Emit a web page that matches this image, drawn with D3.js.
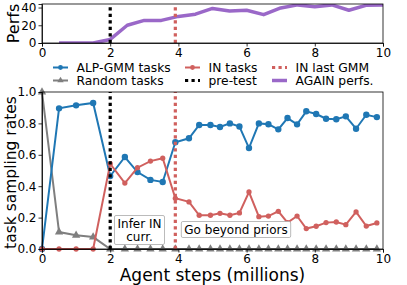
<!DOCTYPE html>
<html lang="en">
<head>
<meta charset="utf-8">
<title>AGAIN sampling rates</title>
<script src="https://d3js.org/d3.v7.min.js"></script>
<style>
  body { margin: 0; background: #fff; }
  text { font-family: "DejaVu Sans", sans-serif; }
</style>
</head>
<body>
<div id="chart"></div>
<script>
// ---- data ----
let steps = [0, 0.5, 1.0, 1.5, 2.0, 2.43, 2.8, 3.18, 3.54, 3.91, 4.31, 4.61, 4.94, 5.22, 5.51,
             5.79, 6.07, 6.36, 6.64, 6.93, 7.2, 7.48, 7.75, 8.04, 8.33, 8.63, 8.91, 9.21, 9.51, 9.82];
let alpGmmRates = [0, 0.896, 0.915, 0.93, 0.465, 0.586, 0.49, 0.44, 0.427, 0.68, 0.705, 0.79, 0.79, 0.777, 0.80,
                   0.78, 0.643, 0.80, 0.795, 0.762, 0.834, 0.794, 0.877, 0.86, 0.83, 0.826, 0.845, 0.766, 0.855, 0.84];
let inRates = [0, 0, 0, 0, 0.543, 0.42, 0.518, 0.56, 0.578, 0.323, 0.30, 0.215, 0.215, 0.227, 0.215,
               0.23, 0.363, 0.206, 0.21, 0.24, 0.168, 0.21, 0.13, 0.145, 0.168, 0.172, 0.155, 0.236, 0.146, 0.166];
let randomRates = [1.0, 0.108, 0.087, 0.076, 0, 0, 0, 0, 0, 0, 0, 0, 0, 0, 0,
                   0, 0, 0, 0, 0, 0, 0, 0, 0, 0, 0, 0, 0, 0, 0];
let perfSteps = [0.5, 1, 1.5, 2, 2.5, 3, 3.5, 4, 4.5, 5, 5.5, 6, 6.5, 7, 7.5, 8, 8.5, 9, 9.5, 10];
let perfs = [0, 0, 0, 4, 20, 25.5, 25.5, 30, 32.5, 39, 36, 37, 32, 39.5, 43, 41, 43, 37, 42.5, 43];
let preTestStep = 2.0;
let inLastGmmStep = 3.91;
let xTicks = [0, 2, 4, 6, 8, 10];
let perfTicks = [0, 20, 40];
let rateTicks = [0, 0.2, 0.4, 0.6, 0.8, 1.0];

let width = 407, height = 285;
let left = 42, right = 383;
let top1 = 4, bottom1 = 43;
let top2 = 92, bottom2 = 249;

let blue = "#1f77b4", red = "#d0605e", grey = "#7f7f7f", purple = "#9a68c8";

let svg = d3.select("#chart").append("svg")
    .attr("width", width).attr("height", height);

let x = d3.scaleLinear().domain([0, 10]).range([left, right]);
let yPerf = d3.scaleLinear().domain([0, 44]).range([bottom1, top1]);
let yRate = d3.scaleLinear().domain([0, 1]).range([bottom2, top2]);

svg.append("clipPath").attr("id", "clipTop")
    .append("rect").attr("x", left).attr("y", top1).attr("width", right - left).attr("height", bottom1 - top1);

function styleAxis(g) {
    g.selectAll("path").attr("stroke", "#000").attr("stroke-width", 0.8);
    g.selectAll("line").attr("stroke", "#000").attr("stroke-width", 0.8);
    g.selectAll("text").attr("font-size", 12).attr("fill", "#000");
}

// ---- top panel: performance ----
let gTop = svg.append("g");
gTop.append("path")
    .datum(perfSteps.map((s, i) => [s, perfs[i]]))
    .attr("clip-path", "url(#clipTop)")
    .attr("fill", "none").attr("stroke", purple).attr("stroke-width", 3.5)
    .attr("stroke-linejoin", "round")
    .attr("d", d3.line().x(d => x(d[0])).y(d => yPerf(d[1])));

function vline(g, step, y0, y1, color) {
    g.append("line")
        .attr("x1", x(step)).attr("x2", x(step))
        .attr("y1", y0).attr("y2", y1)
        .attr("stroke", color).attr("stroke-width", 3.2)
        .attr("stroke-dasharray", "3.2,3.3");
}
vline(gTop, preTestStep, bottom1, top1, "#000");
vline(gTop, inLastGmmStep, bottom1, top1, red);

gTop.append("g").attr("transform", "translate(0," + bottom1 + ")")
    .call(d3.axisBottom(x).tickValues(xTicks).tickSize(3.5).tickPadding(2))
    .call(styleAxis);
gTop.append("g").attr("transform", "translate(" + left + ",0)")
    .call(d3.axisLeft(yPerf).tickValues(perfTicks).tickSize(3.5).tickPadding(2))
    .call(styleAxis);
gTop.append("rect").attr("x", left).attr("y", top1).attr("width", right - left).attr("height", bottom1 - top1)
    .attr("fill", "none").attr("stroke", "#000").attr("stroke-width", 0.8);
gTop.append("text").attr("transform", "translate(18.5," + ((top1 + bottom1) / 2) + ") rotate(-90)")
    .attr("text-anchor", "middle").attr("font-size", 16).text("Perfs");

// ---- bottom panel: task sampling rates ----
let gBot = svg.append("g");
let rateLine = d3.line().x(d => x(d[0])).y(d => yRate(d[1]));

function series(values, color, marker, size) {
    let pts = steps.map((s, i) => [s, values[i]]);
    gBot.append("path").datum(pts)
        .attr("fill", "none").attr("stroke", color).attr("stroke-width", 2)
        .attr("d", rateLine);
    gBot.append("g").selectAll("path").data(pts).join("path")
        .attr("transform", d => "translate(" + x(d[0]) + "," + yRate(d[1]) + ")")
        .attr("d", d3.symbol().type(marker).size(size))
        .attr("fill", color);
}
series(randomRates, grey, d3.symbolTriangle, 30);
series(alpGmmRates, blue, d3.symbolCircle, 32);
series(inRates, red, d3.symbolCircle, 22);

vline(gBot, preTestStep, bottom2, top2, "#000");
vline(gBot, inLastGmmStep, bottom2, top2, red);

gBot.append("g").attr("transform", "translate(0," + bottom2 + ")")
    .call(d3.axisBottom(x).tickValues(xTicks).tickSize(3.5).tickPadding(1.5))
    .call(styleAxis);
gBot.append("g").attr("transform", "translate(" + left + ",0)")
    .call(d3.axisLeft(yRate).tickValues(rateTicks).tickFormat(d3.format(".1f")).tickSize(3.5).tickPadding(2))
    .call(styleAxis);
gBot.append("rect").attr("x", left).attr("y", top2).attr("width", right - left).attr("height", bottom2 - top2)
    .attr("fill", "none").attr("stroke", "#000").attr("stroke-width", 0.8);

gBot.append("text").attr("transform", "translate(15.5," + ((top2 + bottom2) / 2 + 2) + ") rotate(-90)")
    .attr("text-anchor", "middle").attr("font-size", 15.5).text("task sampling rates");
gBot.append("text").attr("x", (left + right) / 2).attr("y", 281)
    .attr("text-anchor", "middle").attr("font-size", 17).text("Agent steps (millions)");

// annotation boxes
function noteBox(lines, cx, y0, lineH) {
    let g = gBot.append("g");
    let rect = g.append("rect");
    let txt = g.append("text").attr("text-anchor", "middle").attr("font-size", 12);
    lines.forEach((l, i) => txt.append("tspan").attr("x", cx).attr("y", y0 + i * lineH).text(l));
    let bb = txt.node().getBBox();
    rect.attr("x", bb.x - 3).attr("y", bb.y - 1).attr("width", bb.width + 6).attr("height", bb.height + 2)
        .attr("rx", 1.5).attr("fill", "#fff").attr("stroke", "#aaa").attr("stroke-width", 0.8);
}
noteBox(["Infer IN", "curr."], 139.5, 227.5, 13);
noteBox(["Go beyond priors"], 236, 233.5, 13);

// ---- legend ----
let legendItems = [
    {label: "ALP-GMM tasks", color: blue, kind: "marker", marker: d3.symbolCircle, col: 0, row: 0},
    {label: "IN tasks", color: red, kind: "marker", marker: d3.symbolCircle, col: 1, row: 0},
    {label: "IN last GMM", color: red, kind: "dotted", col: 2, row: 0},
    {label: "Random tasks", color: grey, kind: "marker", marker: d3.symbolTriangle, col: 0, row: 1},
    {label: "pre-test", color: "#000", kind: "dotted", col: 1, row: 1},
    {label: "AGAIN perfs.", color: purple, kind: "thick", col: 2, row: 1}
];
let colX = [53, 185, 272];
let rowY = [67.5, 80.5];
let leg = svg.append("g");
legendItems.forEach(function(d) {
    let x0 = colX[d.col], y0 = rowY[d.row];
    if (d.kind === "marker") {
        leg.append("line").attr("x1", x0).attr("x2", x0 + 15).attr("y1", y0).attr("y2", y0)
            .attr("stroke", d.color).attr("stroke-width", 2);
        leg.append("path").attr("transform", "translate(" + (x0 + 7.5) + "," + y0 + ")")
            .attr("d", d3.symbol().type(d.marker).size(18)).attr("fill", d.color);
    } else if (d.kind === "dotted") {
        leg.append("line").attr("x1", x0).attr("x2", x0 + 15).attr("y1", y0).attr("y2", y0)
            .attr("stroke", d.color).attr("stroke-width", 3.2).attr("stroke-dasharray", "3.2,3.3");
    } else {
        leg.append("line").attr("x1", x0).attr("x2", x0 + 15).attr("y1", y0).attr("y2", y0)
            .attr("stroke", d.color).attr("stroke-width", 3.5);
    }
    leg.append("text").attr("x", x0 + 23.5).attr("y", y0 + 4.3).attr("font-size", 12.3).text(d.label);
});
</script>
</body>
</html>
